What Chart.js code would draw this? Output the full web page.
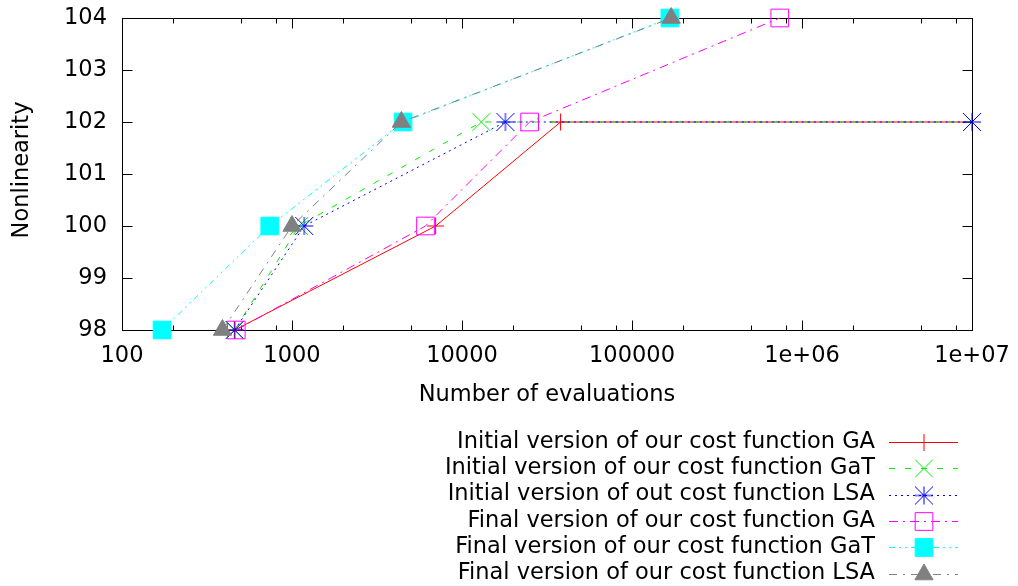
<!DOCTYPE html>
<html>
<head>
<meta charset="utf-8">
<script src="https://cdn.jsdelivr.net/npm/chart.js@4/dist/chart.umd.min.js"></script>
<style>
  html, body { margin: 0; padding: 0; background: #fff; }
  canvas { display: block; }
</style>
</head>
<body>
<canvas id="chart" width="1018" height="586"></canvas>
<script>
// values
const yLevels = [98, 100, 102, 102];
const yLevelsFinal = [98, 100, 102, 104];

const gaInitX = [460, 7000, 38000, 1e7];
const gatInitX = [460, 1100, 13000, 1e7];
const lsaInitX = [460, 1180, 18000, 1e7];
const gaFinalX = [470, 6100, 25000, 740000];
const gatFinalX = [172, 740, 4500, 167000];
const lsaFinalX = [390, 1000, 4400, 170000];

const seriesNames = [
  "Initial version of our cost function GA",
  "Initial version of our cost function GaT",
  "Initial version of out cost function LSA",
  "Final version of our cost function GA",
  "Final version of our cost function GaT",
  "Final version of our cost function LSA",
];

const xTicks = [100, 1000, 10000, 100000, 1e6, 1e7];
const xTickLabels = ["100", "1000", "10000", "100000", "1e+06", "1e+07"];
const xMinorSteps = [2, 5, 8];
const yTicks = [98, 99, 100, 101, 102, 103, 104];

const FONT = "DejaVu Sans";
const FSIZE = 22.5;
const tickFont = { family: FONT, size: FSIZE };

const pts = (xs, ys) => xs.map((x, i) => ({ x: x, y: ys[i] }));

// gnuplot star: + and x in the same square box
function makeStar(color, half) {
  const c = document.createElement("canvas");
  const n = half * 2 + 2;
  c.width = n; c.height = n;
  const g = c.getContext("2d");
  const m = n / 2;
  g.strokeStyle = color;
  g.lineWidth = 1;
  g.beginPath();
  g.moveTo(m - half, m); g.lineTo(m + half, m);
  g.moveTo(m, m - half); g.lineTo(m, m + half);
  g.moveTo(m - half, m - half); g.lineTo(m + half, m + half);
  g.moveTo(m - half, m + half); g.lineTo(m + half, m - half);
  g.stroke();
  return c;
}
const starImg = makeStar("#0000ff", 9);

const styles = [
  { color: "#ff0000", dash: [], point: "cross", radius: 8.5, fill: false },
  { color: "#00ee00", dash: [6, 10], point: "crossRot", radius: 12.5, fill: false },
  { color: "#0000ff", dash: [2, 4], point: starImg, radius: 9, fill: false },
  { color: "#ff00ff", dash: [9, 5, 2, 5], point: "rect", radius: 12.5, fill: false },
  { color: "#00ffff", dash: [6, 4, 2, 4, 2, 4], point: "rect", radius: 12.5, fill: true },
  { color: "#808080", dash: [8, 6, 2, 6], point: "triangle", radius: 10.5, fill: true },
];

const seriesPoints = [
  pts(gaInitX, yLevels),
  pts(gatInitX, yLevels),
  pts(lsaInitX, yLevels),
  pts(gaFinalX, yLevelsFinal),
  pts(gatFinalX, yLevelsFinal),
  pts(lsaFinalX, yLevelsFinal),
];

const datasets = seriesPoints.map((data, i) => {
  const s = styles[i];
  return {
    label: seriesNames[i],
    data: data,
    borderColor: s.color,
    borderWidth: 1,
    borderDash: s.dash,
    pointStyle: s.point,
    // the end markers at 1e7 sit under the LSA star
    pointRadius: (i < 2) ? data.map(p => (p.x >= 1e7 ? 0 : s.radius)) : s.radius,
    pointBorderColor: s.color,
    pointBackgroundColor: s.fill ? s.color : "rgba(0,0,0,0)",
    pointBorderWidth: 1,
    fill: false,
    tension: 0,
    clip: false,
    order: 10 - i, // later series on top, like gnuplot
  };
});

// gnuplot-like box with inward ticks
const framePlugin = {
  id: "frame",
  beforeDatasetsDraw(chart) {
    const { ctx, chartArea: a, scales } = chart;
    const L = Math.round(a.left) + 0.5, R = Math.round(a.right) + 0.5;
    const T = Math.round(a.top) + 0.5, B = Math.round(a.bottom) + 0.5;
    ctx.save();
    ctx.strokeStyle = "#000";
    ctx.lineWidth = 1;
    ctx.strokeRect(L, T, R - L, B - T);
    ctx.beginPath();
    const tick = (x, len) => {
      const px = Math.round(x) + 0.5;
      ctx.moveTo(px, B); ctx.lineTo(px, B - len);
      ctx.moveTo(px, T); ctx.lineTo(px, T + len);
    };
    xTicks.forEach((v, i) => {
      tick(scales.x.getPixelForValue(v), 10);
      if (i < xTicks.length - 1) {
        xMinorSteps.forEach(m => tick(scales.x.getPixelForValue(v * m), 5));
      }
    });
    yTicks.forEach(v => {
      const py = Math.round(scales.y.getPixelForValue(v)) + 0.5;
      ctx.moveTo(L, py); ctx.lineTo(L + 10, py);
      ctx.moveTo(R, py); ctx.lineTo(R - 10, py);
    });
    ctx.stroke();
    ctx.restore();
  },
  afterDraw(chart) {
    const { ctx, chartArea: a } = chart;
    ctx.save();
    ctx.fillStyle = "#000";
    ctx.font = FSIZE + "px '" + FONT + "'";
    ctx.textAlign = "center";
    ctx.textBaseline = "middle";
    ctx.fillText("Number of evaluations", (a.left + a.right) / 2, 395);
    ctx.translate(22, 170);
    ctx.rotate(-Math.PI / 2);
    ctx.fillText("Nonlinearity", 0, 0);
    ctx.restore();
  },
};

// key below the plot, text right-aligned with a line sample
const keyPlugin = {
  id: "key",
  afterDraw(chart) {
    const ctx = chart.ctx;
    const textRight = 875, lineL = 889, lineR = 958, markX = 924;
    const top = 442, step = 26.3;
    ctx.save();
    chart.data.datasets.forEach((ds, i) => {
      const y = top + i * step;
      const s = styles[i];
      ctx.fillStyle = "#000";
      ctx.font = FSIZE + "px '" + FONT + "'";
      ctx.textAlign = "right";
      ctx.textBaseline = "middle";
      ctx.fillText(ds.label, textRight, y);
      ctx.strokeStyle = ds.borderColor;
      ctx.lineWidth = 1;
      ctx.setLineDash(ds.borderDash);
      ctx.beginPath();
      ctx.moveTo(lineL, Math.round(y) + 0.5);
      ctx.lineTo(lineR, Math.round(y) + 0.5);
      ctx.stroke();
      ctx.setLineDash([]);
      ctx.fillStyle = ds.pointBackgroundColor;
      ctx.strokeStyle = ds.pointBorderColor;
      Chart.helpers.drawPoint(ctx, {
        pointStyle: s.point, radius: s.radius, rotation: 0, borderWidth: 1,
      }, markX, Math.round(y) + 0.5);
    });
    ctx.restore();
  },
};

new Chart(document.getElementById("chart"), {
  type: "line",
  data: { datasets: datasets },
  options: {
    responsive: false,
    animation: false,
    events: [],
    layout: { padding: { left: 0, right: 46, top: 18, bottom: 0 } },
    plugins: {
      legend: { display: false },
      tooltip: { enabled: false },
    },
    scales: {
      x: {
        type: "logarithmic",
        min: 100,
        max: 1e7,
        afterBuildTicks: (s) => { s.ticks = xTicks.map(v => ({ value: v })); },
        afterFit: (s) => { s.height = 256; s.paddingLeft = 0; s.paddingRight = 0; },
        ticks: {
          autoSkip: false,
          maxRotation: 0,
          padding: 13,
          color: "#000",
          font: tickFont,
          callback: (v, i) => xTickLabels[i],
        },
        grid: { display: false, drawTicks: false },
        border: { display: false },
      },
      y: {
        min: 98,
        max: 104,
        afterBuildTicks: (s) => { s.ticks = yTicks.map(v => ({ value: v })); },
        afterFit: (s) => { s.width = 122; s.paddingTop = 0; s.paddingBottom = 0; },
        ticks: {
          padding: 15,
          color: "#000",
          font: tickFont,
          callback: (v) => String(v),
        },
        grid: { display: false, drawTicks: false },
        border: { display: false },
      },
    },
  },
  plugins: [framePlugin, keyPlugin],
});
</script>
</body>
</html>
